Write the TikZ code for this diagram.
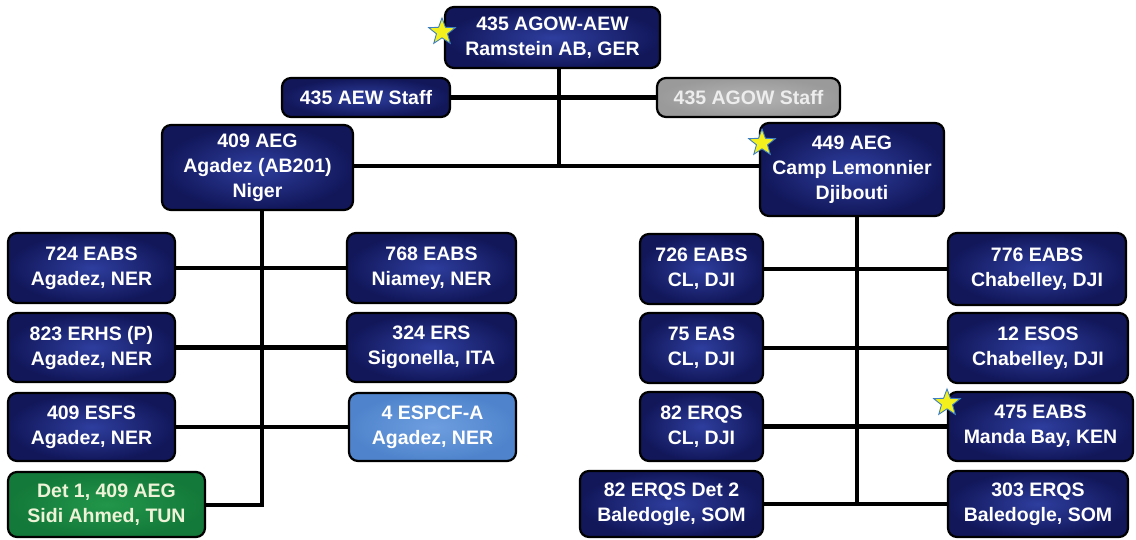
\documentclass[tikz,border=0pt]{standalone}
\usepackage{fontspec}
\setmainfont{Liberation Sans}
\usetikzlibrary{shapes.geometric}
\definecolor{navyo}{HTML}{12175A}
\definecolor{navyi}{HTML}{2E3E9E}
\definecolor{grayo}{HTML}{9A9A9A}
\definecolor{grayi}{HTML}{B4B4B4}
\definecolor{grayt}{HTML}{EDEDED}
\definecolor{lblueo}{HTML}{4F84CC}
\definecolor{lbluei}{HTML}{6E9EE0}
\definecolor{greeno}{HTML}{13793A}
\definecolor{greeni}{HTML}{22964A}
\definecolor{greent}{HTML}{EEF3D8}
\definecolor{starfill}{HTML}{F4F01E}
\definecolor{staredge}{HTML}{3E7FC0}
\tikzset{
  unit/.style={rounded corners=9pt, draw=black, line width=2.2pt,
    inner color=navyi, outer color=navyo, text=white,
    font=\bfseries\fontsize{19.5}{25}\selectfont, align=center, inner sep=0pt},
  grayunit/.style={unit, inner color=grayi, outer color=grayo, text=grayt},
  blueunit/.style={unit, inner color=lbluei, outer color=lblueo, text=white},
  greenunit/.style={unit, inner color=greeni, outer color=greeno, text=greent},
  link/.style={line width=4.5pt, black},
  starmark/.style={star, star points=5, star point ratio=2.4, fill=starfill,
    draw=staredge, line width=0.9pt, minimum size=28pt, inner sep=0pt}
}
\begin{document}
\begin{tikzpicture}[x=1pt,y=-1pt]
\useasboundingbox[fill=white] (0,0) rectangle (1136,539);

% top level
\node[unit, minimum width=215pt, minimum height=61pt] (top) at (552.5,37.5) {435 AGOW-AEW\\Ramstein AB, GER};
\node[unit, minimum width=168pt, minimum height=39pt] (aewstaff) at (366,97.5) {435 AEW Staff};
\node[grayunit, minimum width=183pt, minimum height=39pt] (agowstaff) at (748.5,97.5) {435 AGOW Staff};

% groups
\node[unit, minimum width=191pt, minimum height=85pt] (aeg409) at (257.5,167.5) {409 AEG\\Agadez (AB201)\\Niger};
\node[unit, minimum width=184pt, minimum height=93pt] (aeg449) at (852,169.5) {449 AEG\\Camp Lemonnier\\Djibouti};

% left squadrons
\node[unit, minimum width=167pt, minimum height=70pt] (e724) at (91.5,268) {724 EABS\\Agadez, NER};
\node[unit, minimum width=169pt, minimum height=70pt] (e768) at (431.5,268) {768 EABS\\Niamey, NER};
\node[unit, minimum width=167pt, minimum height=69pt] (e823) at (91.5,347.5) {823 ERHS (P)\\Agadez, NER};
\node[unit, minimum width=169pt, minimum height=69pt] (e324) at (431.5,347.5) {324 ERS\\Sigonella, ITA};
\node[unit, minimum width=167pt, minimum height=68pt] (e409) at (91.5,427) {409 ESFS\\Agadez, NER};
\node[blueunit, minimum width=167pt, minimum height=68pt] (espcf) at (432.5,427) {4 ESPCF-A\\Agadez, NER};
\node[greenunit, minimum width=197pt, minimum height=65pt] (det1) at (106.5,504.5) {Det 1, 409 AEG\\Sidi Ahmed, TUN};

% right squadrons
\node[unit, minimum width=123pt, minimum height=70pt] (e726) at (701.5,269) {726 EABS\\CL, DJI};
\node[unit, minimum width=178pt, minimum height=72pt] (e776) at (1037,269) {776 EABS\\Chabelley, DJI};
\node[unit, minimum width=123pt, minimum height=70pt] (e75) at (701.5,348) {75 EAS\\CL, DJI};
\node[unit, minimum width=180pt, minimum height=70pt] (e12) at (1038,348) {12 ESOS\\Chabelley, DJI};
\node[unit, minimum width=123pt, minimum height=69pt] (e82) at (701.5,426.5) {82 ERQS\\CL, DJI};
\node[unit, minimum width=185pt, minimum height=69pt] (e475) at (1040.5,426.5) {475 EABS\\Manda Bay, KEN};
\node[unit, minimum width=183pt, minimum height=66pt] (det2) at (671.5,504) {82 ERQS Det 2\\Baledogle, SOM};
\node[unit, minimum width=180pt, minimum height=66pt] (e303) at (1038,504) {303 ERQS\\Baledogle, SOM};

% connectors
\coordinate (tj) at (559,166);
\draw[link] (tj |- top.south) -- (tj);
\draw[link] (aewstaff) -- (agowstaff);
\draw[link] (aeg409.east |- tj) -- (aeg449.west |- tj);

\coordinate (lb) at (262,505);
\draw[link] (lb |- aeg409.south) -- (lb) -- (det1.east |- lb);
\draw[link] (e724) -- (e768);
\draw[link] (e823) -- (e324);
\draw[link] (e409) -- (espcf);

\coordinate (rb) at (857,504);
\draw[link] (rb |- aeg449.south) -- (rb);
\draw[link] (e726) -- (e776);
\draw[link] (e75) -- (e12);
\draw[link] (e82) -- (e475);
\draw[link] (det2) -- (e303);

% stars
\node[starmark] (s1) at (442,32) {};
\node[starmark] (s2) at (762,143) {};
\node[starmark] (s3) at (947,403) {};
\end{tikzpicture}
\end{document}
